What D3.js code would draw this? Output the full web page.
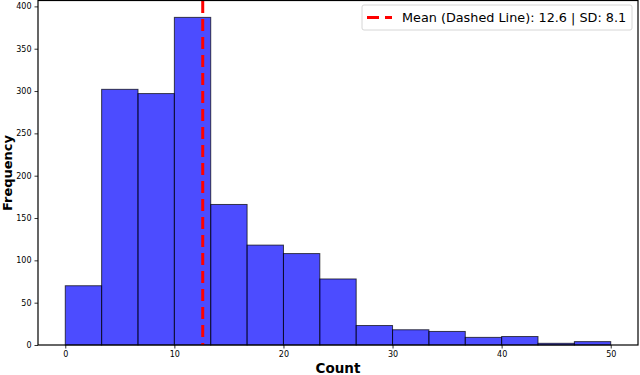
<!DOCTYPE html>
<html>
<head>
<meta charset="utf-8">
<script src="https://cdn.jsdelivr.net/npm/d3@7"></script>
<style>
  body { margin: 0; background: #fff; }
  text { font-family: "DejaVu Sans", sans-serif; }
</style>
</head>
<body>
<div id="chart"></div>
<script>
// histogram bins (15 bins from 0 to 50) and their counts
const binEdges = d3.range(16).map(i => i * 50 / 15);
const counts = [70, 302, 297, 387, 166, 118, 108, 78, 23, 18, 16, 9, 10, 2, 4];
const xTicks = [0, 10, 20, 30, 40, 50];
const yTicks = [0, 50, 100, 150, 200, 250, 300, 350, 400];
const meanVal = 12.6;
const sdVal = 8.1;

let width = 640;
let height = 375;
let margin = { top: 1, right: 2, bottom: 30, left: 38 };

let bins = counts.map((c, i) => ({ x0: binEdges[i], x1: binEdges[i + 1], count: c }));

let xScale = d3.scaleLinear()
	.domain([-2.5, 52.5])
	.range([margin.left, width - margin.right]);

let yScale = d3.scaleLinear()
	.domain([0, d3.max(counts) * 1.05])
	.range([height - margin.bottom, margin.top]);

let svg = d3.select('#chart')
	.append('svg')
	.attr('width', width)
	.attr('height', height);

// bars
svg.selectAll('rect.bar')
	.data(bins)
	.enter()
	.append('rect')
	.attr('class', 'bar')
	.attr('x', d => xScale(d.x0))
	.attr('y', d => yScale(d.count))
	.attr('width', d => xScale(d.x1) - xScale(d.x0))
	.attr('height', d => yScale(0) - yScale(d.count))
	.attr('fill', 'blue')
	.attr('fill-opacity', 0.7)
	.attr('stroke', 'black')
	.attr('stroke-opacity', 0.7)
	.attr('stroke-width', 1);

// mean line
svg.append('line')
	.attr('x1', xScale(meanVal))
	.attr('x2', xScale(meanVal))
	.attr('y1', yScale.range()[1])
	.attr('y2', yScale(0))
	.attr('stroke', 'red')
	.attr('stroke-width', 3)
	.attr('stroke-dasharray', '12,6');

// axes
let xAxis = svg.append('g')
	.attr('transform', `translate(0,${height - margin.bottom})`)
	.call(d3.axisBottom(xScale).tickValues(xTicks).tickSize(3.5).tickPadding(3));

let yAxis = svg.append('g')
	.attr('transform', `translate(${margin.left},0)`)
	.call(d3.axisLeft(yScale).tickValues(yTicks).tickSize(3.5).tickPadding(3));

[xAxis, yAxis].forEach(a => {
	a.select('.domain').remove();
	a.selectAll('text').style('font-family', '"DejaVu Sans", sans-serif').style('font-size', '8px').attr('fill', '#000');
	a.selectAll('line').attr('stroke', '#000').attr('stroke-width', 0.8);
});

// frame
svg.append('rect')
	.attr('x', margin.left)
	.attr('y', margin.top - 0.5)
	.attr('width', width - margin.left - margin.right)
	.attr('height', height - margin.bottom - margin.top + 0.5)
	.attr('fill', 'none')
	.attr('stroke', '#000')
	.attr('stroke-width', 1.2);

// axis labels
svg.append('text')
	.attr('x', (margin.left + width - margin.right) / 2)
	.attr('y', height - 2)
	.style('text-anchor', 'middle')
	.style('font-size', '13.5px')
	.style('font-weight', 'bold')
	.text('Count');

svg.append('text')
	.attr('transform', 'rotate(-90)')
	.attr('x', -(margin.top + height - margin.bottom) / 2)
	.attr('y', 12)
	.style('text-anchor', 'middle')
	.style('font-size', '13px')
	.style('font-weight', 'bold')
	.text('Frequency');

// legend
let legend = svg.append('g');
legend.append('rect')
	.attr('x', 362)
	.attr('y', 5)
	.attr('width', 270)
	.attr('height', 25)
	.attr('rx', 2)
	.attr('fill', '#fff')
	.attr('fill-opacity', 0.8)
	.attr('stroke', '#d6d6d6')
	.attr('stroke-width', 1);
legend.append('line')
	.attr('x1', 367)
	.attr('x2', 392)
	.attr('y1', 17.5)
	.attr('y2', 17.5)
	.attr('stroke', 'red')
	.attr('stroke-width', 3)
	.attr('stroke-dasharray', '12,6');
legend.append('text')
	.attr('x', 402)
	.attr('y', 22)
	.style('font-size', '12.8px')
	.text(`Mean (Dashed Line): ${meanVal} | SD: ${sdVal}`);
</script>
</body>
</html>
